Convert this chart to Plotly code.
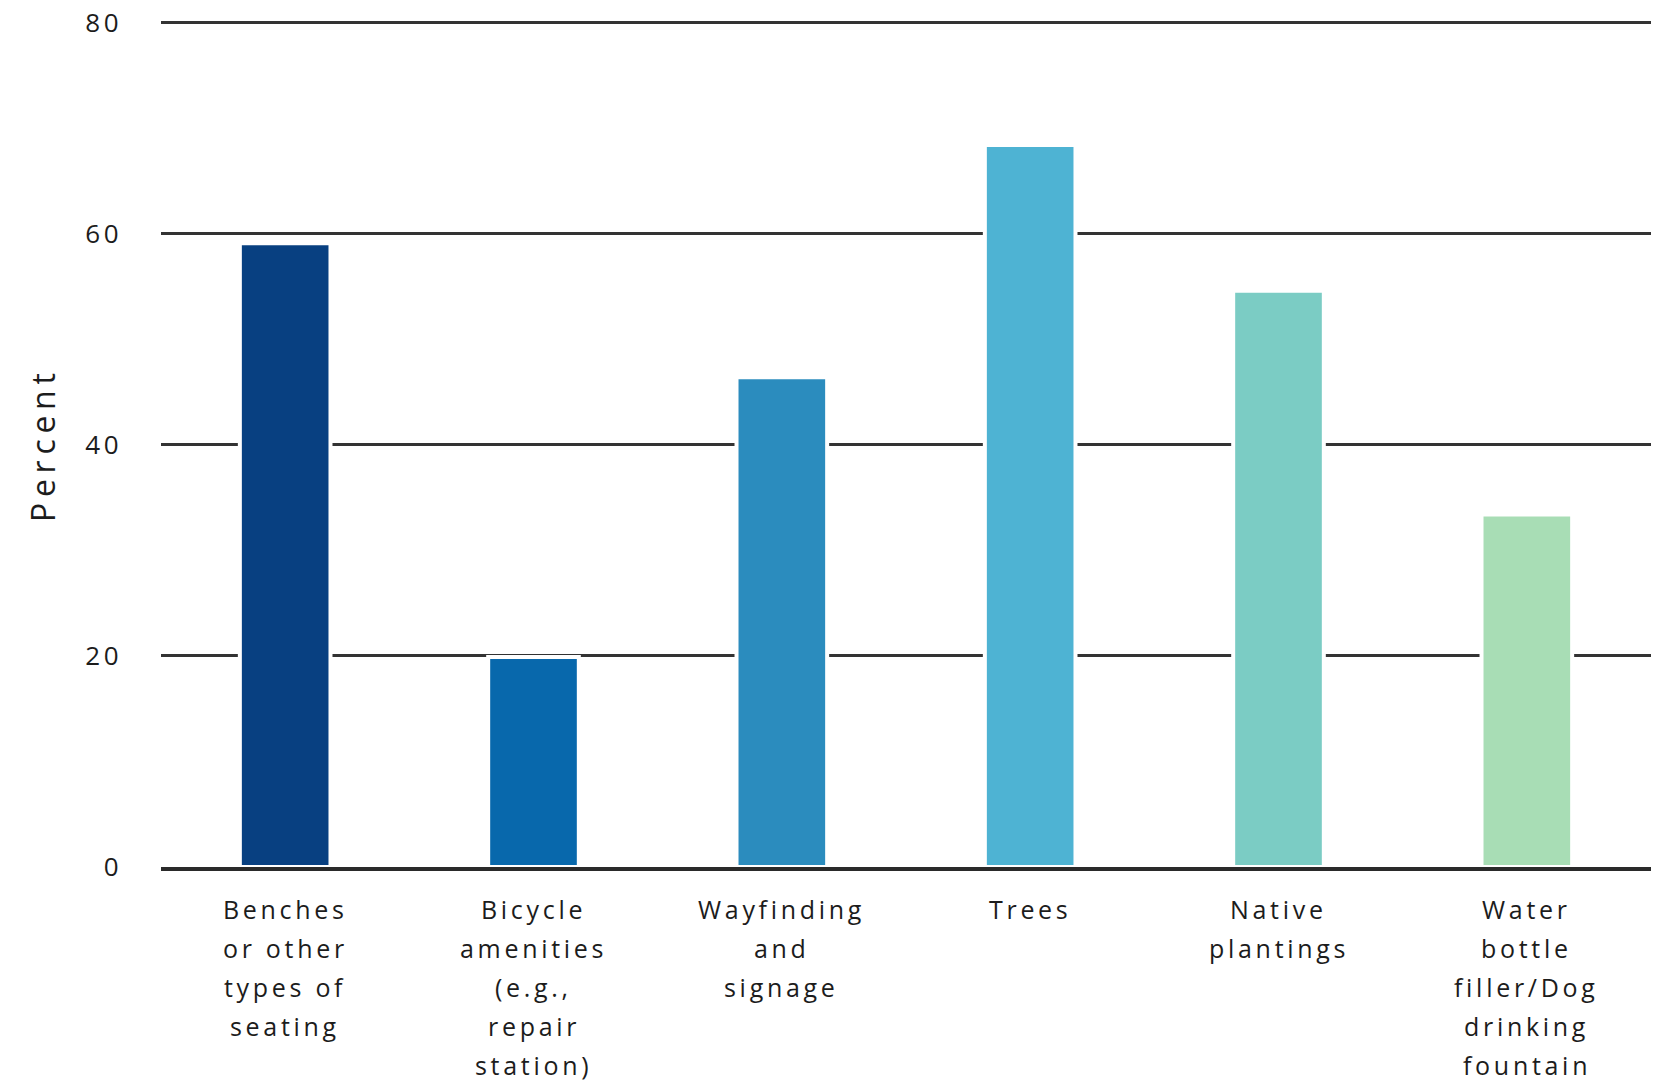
import plotly.graph_objects as go

# Share of respondents selecting each amenity
categories = [
    "Benches<br>or other<br>types of<br>seating",
    "Bicycle<br>amenities<br>(e.g.,<br>repair<br>station)",
    "Wayfinding<br>and<br>signage",
    "Trees",
    "Native<br>plantings",
    "Water<br>bottle<br>filler/Dog<br>drinking<br>fountain",
]
percent = [59.1, 19.9, 46.4, 68.4, 54.6, 33.4]
bar_colors = ["#084081", "#0868ac", "#2b8cbe", "#4eb3d3", "#7bccc4", "#a8ddb5"]
y_ticks = [0, 20, 40, 60, 80]
y_title = "Percent"

W, H = 1665, 1082
M_L, M_R, M_T, M_B = 161, 14, 21.4, 214.7
Y_MAX = 80.15
TEXT = "#1c1c1c"
FONT = "'Open Sans', 'Noto Sans', sans-serif"


def spaced(s, px):
    return f'<span style="letter-spacing:{px}px">{s}</span>'


xs = list(range(len(categories)))

fig = go.Figure()
fig.add_bar(
    x=xs,
    y=percent,
    width=0.365,
    marker=dict(color=bar_colors, line=dict(color="white", width=4)),
    hoverinfo="skip",
)

# Multi-line category labels, one annotation per line for wider leading
for i, cat in enumerate(categories):
    for j, line in enumerate(cat.split("<br>")):
        fig.add_annotation(
            x=xs[i], y=0, xref="x", yref="y",
            text=spaced(line, 3.7),
            showarrow=False,
            xanchor="center", yanchor="middle",
            yshift=-41.5 - 39.2 * j,
            font=dict(family=FONT, size=25, color=TEXT, weight=500),
        )

# Rotated y-axis title
plot_w = W - M_L - M_R
fig.add_annotation(
    x=(42 - M_L) / plot_w, y=0.5, xref="paper", yref="paper",
    text=spaced(y_title, 5.7),
    textangle=-90,
    showarrow=False,
    xanchor="center", yanchor="middle",
    font=dict(family=FONT, size=32, color=TEXT),
)

fig.update_layout(
    width=W, height=H,
    margin=dict(l=M_L, r=M_R, t=M_T, b=M_B, pad=0),
    paper_bgcolor="white",
    plot_bgcolor="white",
    showlegend=False,
    xaxis=dict(
        range=[-0.5, len(categories) - 0.5],
        showticklabels=False,
        showgrid=False,
        zeroline=False,
        showline=True,
        linecolor="#2a2a2a",
        linewidth=3.5,
        layer="above traces",
        automargin=False,
        fixedrange=True,
    ),
    yaxis=dict(
        range=[0, Y_MAX],
        tickmode="array",
        tickvals=y_ticks,
        ticktext=[spaced(str(v), 3.5) for v in y_ticks],
        tickfont=dict(family=FONT, size=26, color=TEXT),
        ticklabelstandoff=38,
        showgrid=True,
        gridcolor="#333333",
        gridwidth=3,
        zeroline=False,
        showline=False,
        automargin=False,
        fixedrange=True,
    ),
)

fig.write_html("out.html")
